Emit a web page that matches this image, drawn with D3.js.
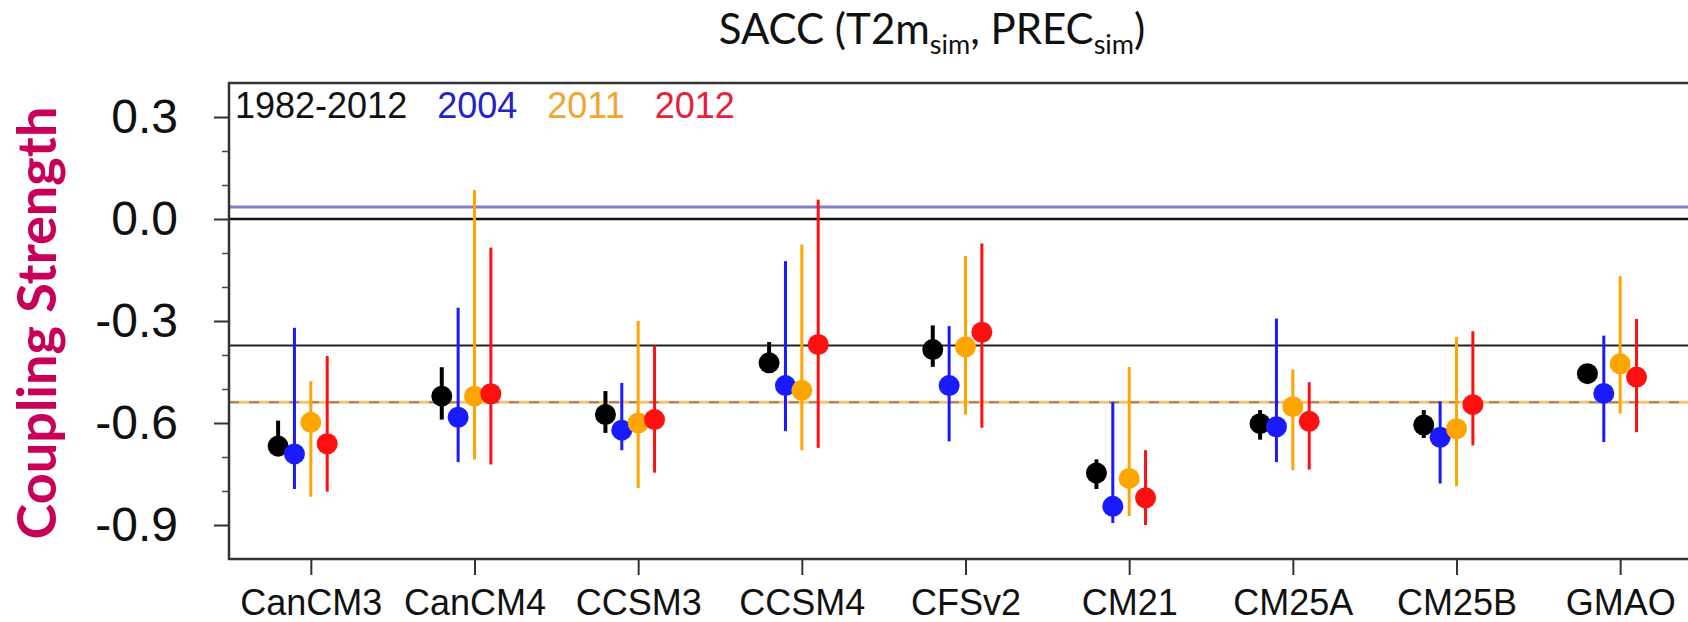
<!DOCTYPE html>
<html>
<head>
<meta charset="utf-8">
<script src="https://cdn.jsdelivr.net/npm/d3@7"></script>
<style>
  html, body { margin: 0; padding: 0; background: #fff; }
  svg { display: block; }
</style>
</head>
<body>
<div id="chart"></div>
<script>
/**
 * Data.
 */
const categories = ["CanCM3", "CanCM4", "CCSM3", "CCSM4", "CFSv2", "CM21", "CM25A", "CM25B", "GMAO"];
const seriesNames = ["1982-2012", "2004", "2011", "2012"];
const seriesColors = ["#000000", "#1a1aff", "#ffa500", "#ff1010"];
const legendColors = ["#111111", "#2323c8", "#f0a630", "#e8203a"];

// Dot value and error bar range for each series.
const climMean = [-0.668, -0.521, -0.575, -0.423, -0.384, -0.747, -0.602, -0.606, -0.455];
const climLow = [-0.698, -0.590, -0.629, -0.452, -0.435, -0.794, -0.649, -0.644, -0.470];
const climHigh = [-0.593, -0.436, -0.506, -0.362, -0.313, -0.707, -0.562, -0.562, -0.440];

const y2004Mean = [-0.691, -0.583, -0.621, -0.490, -0.490, -0.845, -0.611, -0.642, -0.513];
const y2004Low = [-0.794, -0.715, -0.680, -0.624, -0.654, -0.894, -0.715, -0.778, -0.656];
const y2004High = [-0.320, -0.261, -0.482, -0.124, -0.315, -0.539, -0.293, -0.536, -0.343];

const y2011Mean = [-0.598, -0.521, -0.600, -0.504, -0.376, -0.763, -0.552, -0.617, -0.426];
const y2011Low = [-0.817, -0.707, -0.791, -0.680, -0.575, -0.874, -0.739, -0.786, -0.572];
const y2011High = [-0.477, 0.085, -0.300, -0.075, -0.109, -0.435, -0.443, -0.347, -0.168];

const y2012Mean = [-0.661, -0.514, -0.590, -0.369, -0.333, -0.820, -0.595, -0.546, -0.465];
const y2012Low = [-0.802, -0.722, -0.746, -0.673, -0.614, -0.900, -0.737, -0.666, -0.627];
const y2012High = [-0.403, -0.084, -0.372, 0.057, -0.072, -0.680, -0.480, -0.330, -0.294];

// Horizontal reference lines.
const refBlue = 0.035;
const refZero = 0.0;
const refBlack = -0.372;
const refDashed = -0.539;

const yTicks = [0.3, 0.0, -0.3, -0.6, -0.9];
const yMinorTicks = [0.2, 0.1, -0.1, -0.2, -0.4, -0.5, -0.7, -0.8];

/**
 * SVG container.
 */
const width = 1688;
const height = 622;
const margin = { top: 83, left: 229, bottom: 63 };

const svg = d3
  .select("#chart")
  .append("svg")
  .attr("width", width)
  .attr("height", height);

// The frame runs past the right edge of the picture, as in the original.
const x = d3.scaleLinear().domain([-0.5, 8.5]).range([margin.left, 1702]);
const y = d3.scaleLinear().domain([-1.0, 0.4]).range([height - margin.bottom, margin.top]);

const series = [
  { mean: climMean, low: climLow, high: climHigh, width: 4 },
  { mean: y2004Mean, low: y2004Low, high: y2004High, width: 3 },
  { mean: y2011Mean, low: y2011Low, high: y2011High, width: 3 },
  { mean: y2012Mean, low: y2012Low, high: y2012High, width: 3 },
];

/**
 * Reference lines.
 */
const hLine = (value) =>
  svg
    .append("line")
    .attr("x1", x(-0.5))
    .attr("x2", x(8.5))
    .attr("y1", y(value))
    .attr("y2", y(value));

hLine(refBlue).style("stroke", "#8080cc").style("stroke-width", 3);
hLine(refZero).style("stroke", "#111").style("stroke-width", 2.5);
hLine(refBlack).style("stroke", "#222").style("stroke-width", 2);

// Orange line with grey dashes over it.
hLine(refDashed).style("stroke", "#f6c478").style("stroke-width", 3);
hLine(refDashed)
  .style("stroke", "#948470")
  .style("stroke-width", 2)
  .style("stroke-dasharray", "10,10");

/**
 * Error bars and dots.
 */
series.forEach((s, j) => {
  const offset = (j - 2) * 0.1;
  const g = svg.append("g");

  g.selectAll("line")
    .data(categories)
    .enter()
    .append("line")
    .attr("x1", (_, i) => x(i + offset))
    .attr("x2", (_, i) => x(i + offset))
    .attr("y1", (_, i) => y(s.high[i]))
    .attr("y2", (_, i) => y(s.low[i]))
    .style("stroke", seriesColors[j])
    .style("stroke-width", s.width);

  g.selectAll("circle")
    .data(categories)
    .enter()
    .append("circle")
    .attr("cx", (_, i) => x(i + offset))
    .attr("cy", (_, i) => y(s.mean[i]))
    .attr("r", 10.5)
    .style("fill", seriesColors[j]);
});

/**
 * Frame and axes.
 */
svg
  .append("rect")
  .attr("x", x(-0.5))
  .attr("y", y(0.4))
  .attr("width", x(8.5) - x(-0.5))
  .attr("height", y(-1.0) - y(0.4))
  .style("fill", "none")
  .style("stroke", "#333")
  .style("stroke-width", 2.5);

const yAxis = svg
  .append("g")
  .attr("transform", `translate(${margin.left},0)`)
  .call(d3.axisLeft(y).tickValues(yTicks).tickSize(15).tickPadding(50));

yAxis.select(".domain").remove();
yAxis.selectAll(".tick line").style("stroke", "#333").style("stroke-width", 2);
yAxis
  .selectAll(".tick text")
  .attr("x", -51)
  .style("font-family", "'Liberation Sans', Arial, sans-serif")
  .style("font-size", "48px")
  .style("fill", "#111")
  .text((d) => d3.format(".1f")(d).replace("−", "-"));

const yMinor = svg
  .append("g")
  .attr("transform", `translate(${margin.left},0)`)
  .call(d3.axisLeft(y).tickValues(yMinorTicks).tickSize(7).tickFormat(""));
yMinor.select(".domain").remove();
yMinor.selectAll(".tick line").style("stroke", "#444").style("stroke-width", 1.5);

const xAxis = svg
  .append("g")
  .attr("transform", `translate(0,${y(-1.0)})`)
  .call(
    d3
      .axisBottom(x)
      .tickValues(d3.range(categories.length))
      .tickSize(16)
      .tickPadding(14)
      .tickFormat((i) => categories[i])
  );

xAxis.select(".domain").remove();
xAxis.selectAll(".tick line").style("stroke", "#333").style("stroke-width", 2);
xAxis
  .selectAll(".tick text")
  .style("font-family", "'Liberation Sans', Arial, sans-serif")
  .style("font-size", "36px")
  .style("fill", "#111");

/**
 * Legend.
 */
let legendX = 235;
seriesNames.forEach((name, j) => {
  const t = svg
    .append("text")
    .attr("x", legendX)
    .attr("y", 118)
    .text(name)
    .style("font-family", "'Liberation Sans', Arial, sans-serif")
    .style("font-size", "36px")
    .style("fill", legendColors[j]);
  legendX += t.node().getComputedTextLength() + 30;
});

/**
 * Titles.
 */
const title = svg
  .append("text")
  .attr("x", 932)
  .attr("y", 44)
  .attr("text-anchor", "middle")
  .style("font-family", "Lato, 'Open Sans', sans-serif")
  .style("font-size", "42px")
  .style("fill", "#111");

title.append("tspan").text("SACC (T2m");
title.append("tspan").attr("dy", 10).style("font-size", "27px").text("sim");
title.append("tspan").attr("dy", -10).text(", PREC");
title.append("tspan").attr("dy", 10).style("font-size", "27px").text("sim");
title.append("tspan").attr("dy", -10).text(")");

svg
  .append("text")
  .attr("transform", "translate(56,323) rotate(-90)")
  .attr("text-anchor", "middle")
  .text("Coupling Strength")
  .style("font-family", "Lato, 'Open Sans', sans-serif")
  .style("font-weight", "bold")
  .style("font-size", "54px")
  .style("fill", "#c8005a");
</script>
</body>
</html>
